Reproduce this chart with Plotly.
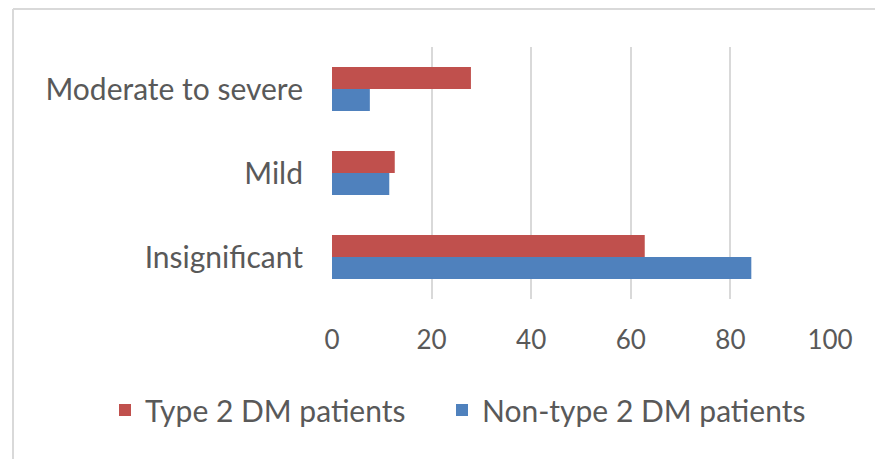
import plotly.graph_objects as go

categories = ["Insignificant", "Mild", "Moderate to severe"]
type2_dm = [62.8, 12.6, 27.9]
non_type2_dm = [84.2, 11.5, 7.6]
x_ticks = [0, 20, 40, 60, 80, 100]

W, H = 883, 459
# the page body adds an 8px offset; margins compensate for it
L, R, T, B = 324, 61, 39, 168
pw, ph = W - L - R, H - T - B

FONT = "Lato"
TXT = "#595959"

fig = go.Figure()
fig.add_trace(go.Bar(y=categories, x=non_type2_dm, orientation="h",
                     name="Non-type 2 DM patients", marker_color="#4F81BD",
                     marker_line_width=0, legend="legend2"))
fig.add_trace(go.Bar(y=categories, x=type2_dm, orientation="h",
                     name="Type 2 DM patients", marker_color="#C0504D",
                     marker_line_width=0, legend="legend"))

# outer chart border (left/top edges visible)
bx = (5 - L) / pw
by = (H - B - 1) / ph
fig.add_shape(type="line", xref="paper", yref="paper", x0=bx, x1=bx, y0=by, y1=-1,
              line=dict(color="#D9D9D9", width=2))
fig.add_shape(type="line", xref="paper", yref="paper", x0=bx, x1=1.5, y0=by, y1=by,
              line=dict(color="#D9D9D9", width=2))

leg_y = (H - B - 402) / ph
leg_common = dict(orientation="h", xanchor="left", y=leg_y, yanchor="middle",
                  font=dict(family=FONT, size=30, color=TXT), itemwidth=30,
                  bgcolor="rgba(0,0,0,0)")

fig.update_layout(
    width=W, height=H,
    margin=dict(l=L, r=R, t=T, b=B, autoexpand=False),
    barmode="group", bargap=0.476, bargroupgap=0,
    plot_bgcolor="white", paper_bgcolor="white",
    font=dict(family=FONT, size=30, color=TXT),
    showlegend=True,
    legend=dict(x=(97 - L) / pw, **leg_common),
    legend2=dict(x=(434 - L) / pw, **leg_common),
    xaxis=dict(range=[0, 100], tickvals=x_ticks, showgrid=True, gridcolor="#D9D9D9",
               gridwidth=2, zeroline=False, showline=False, ticks="",
               ticklabelstandoff=23, tickfont=dict(size=26, color=TXT)),
    yaxis=dict(type="category", showgrid=False, zeroline=False, showline=False,
               ticks="", ticklabelstandoff=28, tickfont=dict(size=30, color=TXT)),
)

fig.write_html("out.html")
